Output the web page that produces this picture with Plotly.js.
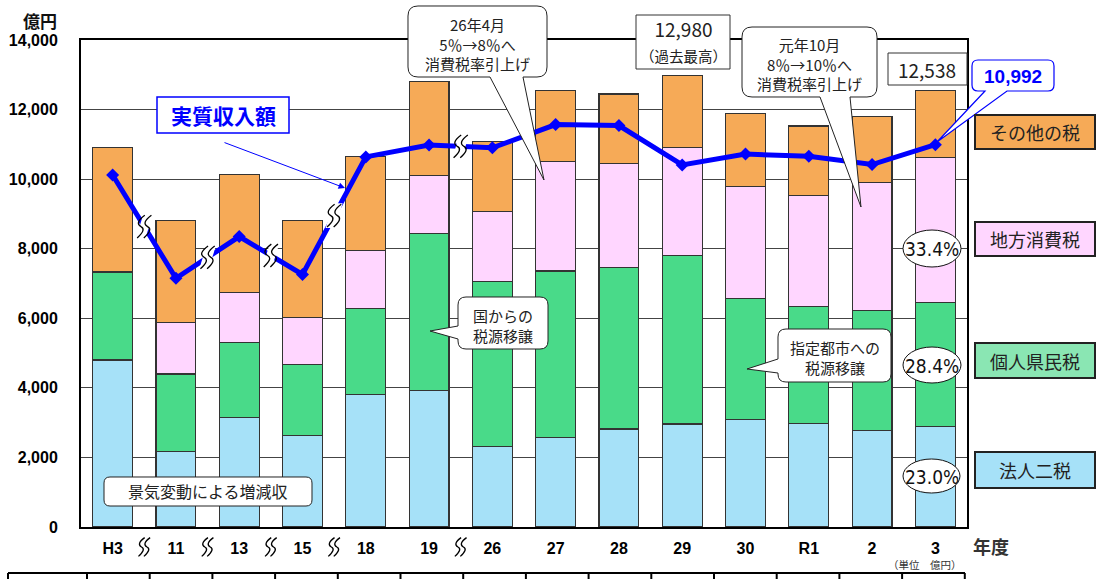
<!DOCTYPE html>
<html><head><meta charset="utf-8">
<script src="https://cdn.plot.ly/plotly-3.0.1.min.js"></script>
<style>html,body{margin:0;padding:0;background:#fff}#chart{width:1097px;height:579px}</style>
</head><body><div id="chart"></div>
<script>
// ---- data (億円) ----
const years = ['H3','11','13','15','18','19','26','27','28','29','30','R1','2','3'];
const hojin  = [4800,2160,3150,2620,3810,3920,2320,2570,2820,2960,3080,2980,2780,2884]; // 法人二税
const kojin  = [2530,2240,2150,2060,2480,4520,4730,4790,4640,4840,3490,3350,3440,3561]; // 個人県民税
const chiho  = [0,1480,1430,1350,1670,1660,2010,3150,2980,3120,3220,3210,3680,4188];    // 地方消費税
const sonota = [3590,2940,3410,2790,2700,2710,2020,2030,2010,2060,2090,1990,1890,1905]; // その他の税
const jisshitsu = [10120,7150,8350,7260,10640,10980,10900,11570,11540,10410,10720,10660,10420,10992]; // 実質収入額
const breaks = [0.5,1.5,2.5,3.5,5.5];
const yTicks = [0,2000,4000,6000,8000,10000,12000,14000];

// ---- geometry helpers (plot area in px) ----
const L=81, R=967, TOP=40, BOT=527;
const px = x => (x-L)/(R-L);
const py = y => (BOT-y)/(BOT-TOP);
const JP = 'Noto Sans CJK JP, sans-serif';
const NUM = 'Liberation Sans, Arial, sans-serif';
const NARROW = 'Liberation Sans Narrow, DejaVu Sans Condensed, Arial Narrow, sans-serif';

function P(x,y){ return px(x).toFixed(5)+','+py(y).toFixed(5); }
function bubble(x0,y0,x1,y1,r,side,b1,b2,tx,ty,col,w){
  let d='M'+P(x0+r,y0)+' L'+P(x1-r,y0)+' Q'+P(x1,y0)+' '+P(x1,y0+r)+' L'+P(x1,y1-r)+' Q'+P(x1,y1)+' '+P(x1-r,y1);
  if(side==='bottom'){ d+=' L'+P(b2,y1)+' L'+P(tx,ty)+' L'+P(b1,y1); }
  d+=' L'+P(x0+r,y1)+' Q'+P(x0,y1)+' '+P(x0,y1-r);
  if(side==='left'){ d+=' L'+P(x0,b2)+' L'+P(tx,ty)+' L'+P(x0,b1); }
  d+=' L'+P(x0,y0+r)+' Q'+P(x0,y0)+' '+P(x0+r,y0)+' Z';
  return {type:'path',xref:'paper',yref:'paper',path:d,fillcolor:'#fff',line:{color:col||'#222',width:w||1},layer:'above'};
}
function rect(x0,y0,x1,y1,fill,col,w){
  return {type:'rect',xref:'paper',yref:'paper',x0:px(x0),x1:px(x1),y0:py(y1),y1:py(y0),fillcolor:fill,line:{color:col,width:w},layer:'above'};
}
function ell(x0,y0,x1,y1){
  return {type:'circle',xref:'paper',yref:'paper',x0:px(x0),x1:px(x1),y0:py(y1),y1:py(y0),fillcolor:'#fff',line:{color:'#111',width:1},layer:'above'};
}
function txt(x,y,text,size,o){
  o=o||{};
  return {xref:'paper',yref:'paper',x:px(x),y:py(y),text:text,showarrow:false,xanchor:'center',yanchor:'middle',borderpad:0,
    font:{family:o.family||JP,size:size,color:o.color||'#222',weight:o.weight||'normal'}};
}
// wavy "break" mark: pixel-sized path anchored at a data / paper position
function Q(pts){ return pts.map(p=>p[0].toFixed(2)+','+(-p[1]).toFixed(2)); }
function breakMark(xa,ya,yref,s,bg){
  const out=[];
  const stroke = dx => { const q=Q([[dx+4*s,-12*s],[dx-7*s,-4*s],[dx,0],[dx+6*s,3*s],[dx-4*s,12*s]]);
    return 'M'+q[0]+' Q'+q[1]+' '+q[2]+' Q'+q[3]+' '+q[4]; };
  const base = {type:'path',xref:'x',yref:yref,xsizemode:'pixel',ysizemode:'pixel',xanchor:xa,yanchor:ya,layer:'above'};
  if(bg){
    const q=Q([[-1*s,-13*s],[9*s,-13*s],[1*s,13*s],[-9*s,13*s]]);
    out.push(Object.assign({},base,{path:'M'+q[0]+' L'+q[1]+' L'+q[2]+' L'+q[3]+' Z',fillcolor:'#fff',line:{width:0}}));
  }
  [-3.5*s,3.5*s].forEach(dx=>out.push(Object.assign({},base,{path:stroke(dx),fillcolor:'rgba(0,0,0,0)',line:{color:'#000',width:1.3}})));
  return out;
}

const barLine = {color:'#333',width:1.2};
const W = 0.63;
const traces = [
  {type:'bar',name:'法人二税',x:years,y:hojin,width:W,marker:{color:'#A6E1F8',line:barLine},hoverinfo:'y'},
  {type:'bar',name:'個人県民税',x:years,y:kojin,width:W,marker:{color:'#49DA89',line:barLine},hoverinfo:'y'},
  {type:'bar',name:'地方消費税',x:years,y:chiho,width:W,marker:{color:'#FFD6FF',line:barLine},hoverinfo:'y'},
  {type:'bar',name:'その他の税',x:years,y:sonota,width:W,marker:{color:'#F6AA57',line:barLine},hoverinfo:'y'},
  {type:'scatter',mode:'lines+markers',name:'実質収入額',x:years,y:jisshitsu,
    line:{color:'#0000FF',width:5},marker:{symbol:'diamond',size:10,color:'#0000FF'},hoverinfo:'y'}
];

const shapes = [];
// break marks on the line and under the axis
breaks.forEach(b=>{
  const yv = (jisshitsu[Math.floor(b)]+jisshitsu[Math.ceil(b)])/2;
  breakMark(b,yv,'y',0.95,true).forEach(s=>shapes.push(s));
  breakMark(b,py(547),'paper',0.78,false).forEach(s=>shapes.push(s));
});
// callouts
shapes.push(bubble(408,6,547,77,10,'bottom',490,523,544,180));
shapes.push(bubble(742,27,877,97,10,'bottom',820,850,861,207));
shapes.push(bubble(458,297,548,349,8,'left',326,339,430,331));
shapes.push(bubble(778,329,891,382,8,'left',359,373,747,369));
shapes.push(bubble(104,477,312,506,6,'none'));
shapes.push(bubble(972,60,1054,91,6,'bottom',985,1007,937,142,'#0000FF',1.2));
shapes.push(rect(636,15,730,69,'#fff','#333',1));
shapes.push(rect(888,53,967,85,'#fff','#333',1));
shapes.push(rect(157,97,289,133,'#fff','#0000FF',1.5));
// percent ellipses
shapes.push(ell(903,230,961,267));
shapes.push(ell(903,347,961,383));
shapes.push(ell(903,459,960,493));
// legend boxes
shapes.push(rect(975,115,1095,149,'#F6AA57','#222',2));
shapes.push(rect(975,222,1095,256,'#FFD6FF','#222',2));
shapes.push(rect(975,343,1095,378,'#8AE6B3','#222',2));
shapes.push(rect(975,452,1095,488,'#A6E1F8','#222',2));
// bottom table edge
shapes.push({type:'line',xref:'paper',yref:'paper',x0:px(8),x1:px(965),y0:py(573),y1:py(573),line:{color:'#000',width:2}});
shapes.push({type:'line',xref:'paper',yref:'paper',x0:px(8),x1:px(8),y0:py(573),y1:py(585),line:{color:'#000',width:2}});
for(let k=0;k<15;k++){
  const xx = 87+k*62.7;
  shapes.push({type:'line',xref:'paper',yref:'paper',x0:px(xx),x1:px(xx),y0:py(573),y1:py(585),line:{color:'#000',width:2}});
}

const ann = [];
ann.push(txt(40,20,'億円',17,{weight:'bold',color:'#111'}));
ann.push(txt(991,546,'年度',18,{weight:'bold',color:'#333'}));
ann.push(txt(925,564,'（単位　億円）',10.5,{color:'#333'}));
// bubble texts (multi-line)
ann.push(txt(477,44,'26年4月<br>5％→8％へ<br>消費税率引上げ',15));
ann.push(txt(809,64,'元年10月<br>8％→10％へ<br>消費税率引上げ',15));
ann.push(txt(683,41,'12,980<br><span style="font-size:14.5px">（過去最高）</span>',19));
ann.push(txt(927,69,'12,538',19));
ann.push(txt(1013,77,'10,992',19,{family:NUM,weight:'bold',color:'#0000FF'}));
ann.push(txt(223,115,'実質収入額',21,{weight:'bold',color:'#0000FF'}));
ann.push(txt(503,325,'国からの<br>税源移譲',15));
ann.push(txt(835,357,'指定都市への<br>税源移譲',15));
ann.push(txt(208,491,'景気変動による増減収',16));
// percent labels
ann.push(txt(932,249,'33.4%',19,{family:NARROW,color:'#111'}));
ann.push(txt(932,366,'28.4%',19,{family:NARROW,color:'#111'}));
ann.push(txt(932,477,'23.0%',19,{family:NARROW,color:'#111'}));
// legend texts
ann.push(txt(1035,132,'その他の税',18));
ann.push(txt(1035,239,'地方消費税',18));
ann.push(txt(1035,361,'個人県民税',18));
ann.push(txt(1035,470,'法人二税',18));
// arrow for 実質収入額
ann.push({xref:'paper',yref:'paper',x:px(345),y:py(188),ax:-122,ay:-46,text:'',showarrow:true,
  arrowcolor:'#0000FF',arrowwidth:1,arrowhead:2,arrowsize:1.3});

const layout = {
  width:1097,height:579,
  margin:{l:L,r:1097-R,t:TOP,b:579-BOT,pad:0},
  paper_bgcolor:'#fff',plot_bgcolor:'#fff',
  barmode:'stack',showlegend:false,
  xaxis:{type:'category',range:[-0.5,13.5],showgrid:false,showline:true,linecolor:'#000',linewidth:2,mirror:true,
    ticks:'',tickfont:{family:NUM,size:16,weight:'bold',color:'#000'},ticklabelstandoff:6,fixedrange:true},
  yaxis:{range:[0,14000],tickvals:yTicks,tickformat:',d',showgrid:true,gridcolor:'#444',gridwidth:1,
    showline:true,linecolor:'#000',linewidth:2,mirror:true,zeroline:false,ticks:'',
    tickfont:{family:NUM,size:16,weight:'bold',color:'#000'},ticklabelstandoff:18,fixedrange:true},
  shapes:shapes,annotations:ann
};
Plotly.newPlot('chart',traces,layout,{displayModeBar:false,staticPlot:true});
</script></body></html>
